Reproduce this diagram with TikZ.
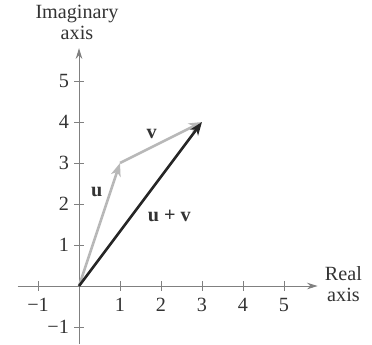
\documentclass[tikz,border=0pt]{standalone}
\usepackage{fontspec}
\setmainfont{Liberation Serif}
\usetikzlibrary{arrows.meta,positioning}
\tikzset{%
  axis/.style={draw=black!50, line width=0.6pt, -{Stealth[length=2.6mm,width=1.6mm]}},
  tick/.style={draw=black!50, line width=0.6pt},
  vec/.style={line width=1.8pt, -{Stealth[length=3.2mm,width=2.4mm,inset=0.9mm]}}%
}

\begin{document}
\begin{tikzpicture}[
    font=\fontsize{14}{15}\selectfont,
    ticklabel/.style={text=black!80, inner sep=1pt},
    veclabel/.style={font=\fontsize{14}{15}\selectfont\bfseries, text=black!80},
    axislabel/.style={align=center, text=black!80, inner sep=0pt}
]
\useasboundingbox (-1.927,-1.415) rectangle (7.146,6.976);

% Axes
\draw[axis] (-1.5,0) -- (5.82,0);
\draw[axis] (0,-1.42) -- (0,5.8);

% Ticks and numbers
\foreach \x/\t in {-1/−1,1/1,2/2,3/3,4/4,5/5}
  \draw[tick] (\x,-0.12) -- (\x,0.12) node[ticklabel, pos=0, below=0.14cm] {\t};
\foreach \y/\t in {-1/−1,1/1,2/2,3/3,4/4,5/5}
  \draw[tick] (-0.12,\y) -- (0.12,\y) node[ticklabel, pos=0, left=0.08cm] {\t};

% Axis labels
\node[axislabel] (imlabel) at (-0.05,6.43) {Imaginary\\axis};
\node[axislabel] (relabel) at (6.45,0.05) {Real\\axis};

% Vectors
\coordinate (O) at (0,0);
\coordinate (U) at (1,3);
\coordinate (S) at (3,4);

\draw[vec, draw=black!28, fill=black!28] (O) -- (U);
\draw[vec, draw=black!28, fill=black!28] (U) -- (S);
\draw[vec, draw=black!85, fill=black!85] (O) -- (S);

% Vector labels
\node[veclabel] (ulabel) at (0.43,2.3) {u};
\node[veclabel] (vlabel) at (1.77,3.72) {v};
\node[veclabel] (uvlabel) at (2.2,1.7) {u + v};

\end{tikzpicture}
\end{document}
